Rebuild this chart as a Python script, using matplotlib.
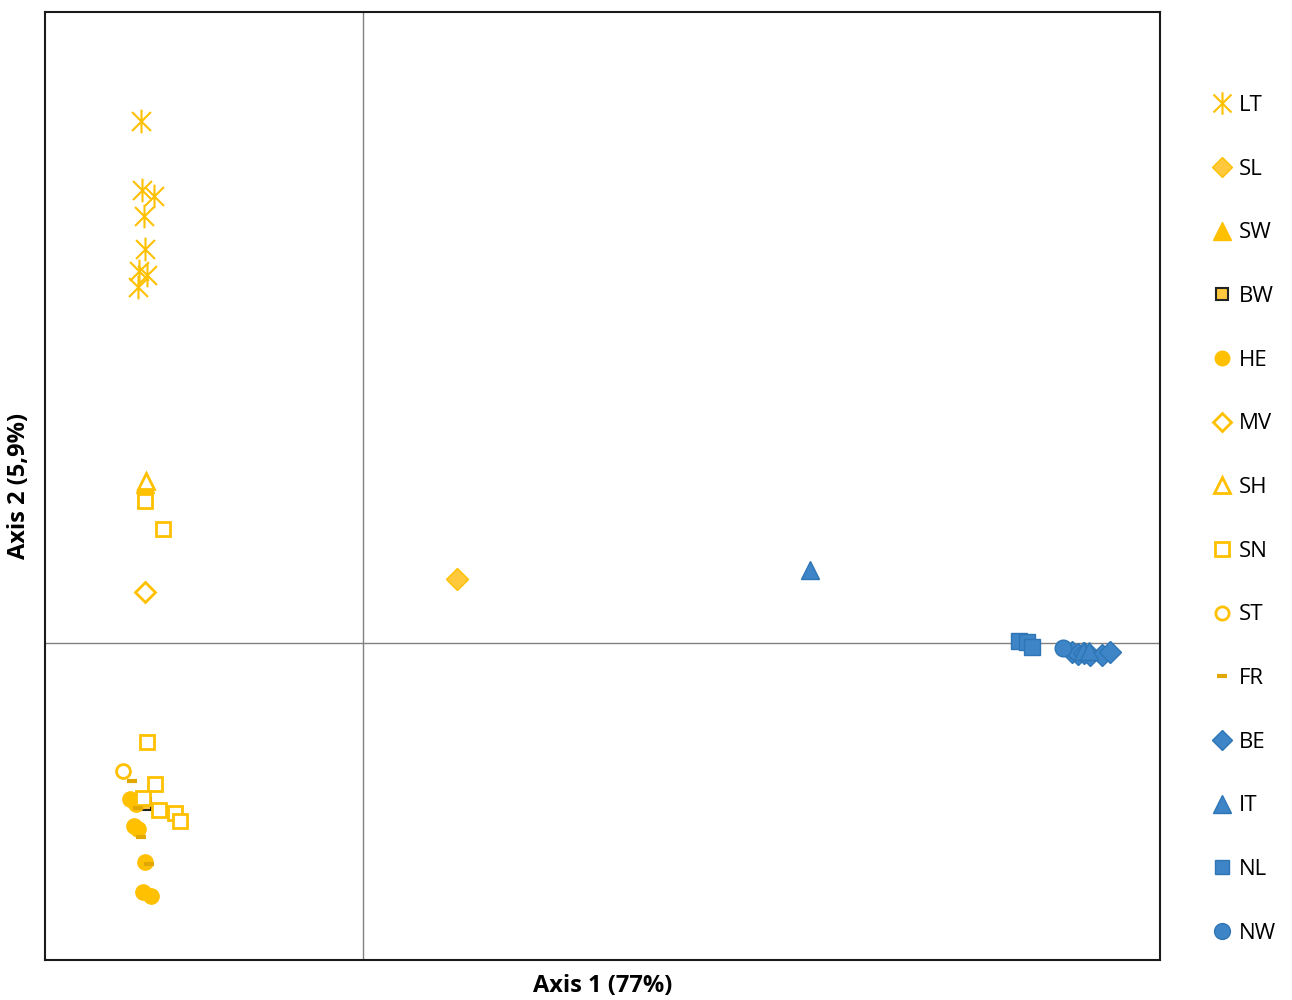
import numpy as np
import matplotlib.pyplot as plt
from matplotlib.path import Path

# coordinates (axis units, origin at the crossing lines)
lt_x = [-2.22, -2.21, -2.09, -2.19, -2.18, -2.24, -2.16, -2.25]
lt_y = [5.22, 4.53, 4.47, 4.27, 3.94, 3.72, 3.68, 3.56]
sl_x = [0.94]
sl_y = [0.64]
sw_x = [-2.18]
sw_y = [1.59]
bw_x = [-2.18]
bw_y = [-1.61]
he_x = [-2.33, -2.27, -2.29, -2.25, -2.18, -2.20, -2.12]
he_y = [-1.56, -1.61, -1.83, -1.86, -2.19, -2.49, -2.53]
mv_x = [-2.18]
mv_y = [0.51]
sh_x = [-2.17]
sh_y = [1.62]
sn_x = [-2.18, -2.00, -2.16, -2.08, -2.20, -2.04, -1.88, -1.83]
sn_y = [1.42, 1.14, -0.99, -1.41, -1.55, -1.67, -1.70, -1.78]
st_x = [-2.40]
st_y = [-1.28]
fr_x = [-2.31, -2.25, -2.22, -2.14]
fr_y = [-1.38, -1.65, -1.94, -2.21]
be_x = [7.09, 7.15, 7.21, 7.27, 7.39, 7.47]
be_y = [-0.09, -0.11, -0.10, -0.12, -0.12, -0.09]
it_x = [4.47, 7.20, 7.26]
it_y = [0.73, -0.08, -0.08]
nl_x = [6.56, 6.64, 6.69]
nl_y = [0.02, 0.01, -0.04]
nw_x = [7.00]
nw_y = [-0.05]

YEL = '#FFC000'
BLU = '#3D85C6'
BLU_E = '#2E75B6'

plt.rcParams['font.family'] = ['Open Sans', 'DejaVu Sans']

# excel-style star: X plus a vertical bar
star = Path([(-1, -1), (1, 1), (-1, 1), (1, -1), (0, -1.25), (0, 1.25)],
            [Path.MOVETO, Path.LINETO, Path.MOVETO, Path.LINETO, Path.MOVETO, Path.LINETO])

fig = plt.figure(figsize=(12.92, 10), dpi=100)
ax = fig.add_axes([45/1292, 40/1000, 1115/1292, 948/1000])

ax.axvline(0, color='#808080', lw=1, zorder=1)
ax.axhline(0, color='#808080', lw=1, zorder=1)

series = [
    ('LT', lt_x, lt_y, dict(marker=star, ms=17, mec=YEL, mfc=YEL, mew=1.5)),
    ('SL', sl_x, sl_y, dict(marker='D', ms=11, mec=YEL, mfc='#FFC83D', mew=1)),
    ('SW', sw_x, sw_y, dict(marker='^', ms=13, mec=YEL, mfc=YEL, mew=1)),
    ('BW', bw_x, bw_y, dict(marker='s', ms=9, mec='#222222', mfc='#FFC83D', mew=1.5)),
    ('HE', he_x, he_y, dict(marker='o', ms=11, mec=YEL, mfc=YEL, mew=1)),
    ('MV', mv_x, mv_y, dict(marker='D', ms=10, mec=YEL, mfc='white', mew=2)),
    ('SH', sh_x, sh_y, dict(marker='^', ms=12, mec=YEL, mfc='white', mew=2)),
    ('SN', sn_x, sn_y, dict(marker='s', ms=10, mec=YEL, mfc='white', mew=2)),
    ('ST', st_x, st_y, dict(marker='o', ms=10, mec=YEL, mfc='white', mew=2)),
    ('FR', fr_x, fr_y, dict(marker='_', ms=7, mec='#E0A800', mfc='#E0A800', mew=3)),
    ('BE', be_x, be_y, dict(marker='D', ms=11, mec=BLU_E, mfc=BLU, mew=1)),
    ('IT', it_x, it_y, dict(marker='^', ms=13, mec=BLU_E, mfc=BLU, mew=1)),
    ('NL', nl_x, nl_y, dict(marker='s', ms=11, mec=BLU_E, mfc=BLU, mew=1)),
    ('NW', nw_x, nw_y, dict(marker='o', ms=12, mec=BLU_E, mfc=BLU, mew=1)),
]

handles = []
for name, xs, ys, st in series:
    h, = ax.plot(xs, ys, ls='none', label=name, zorder=3, **st)
    handles.append(h)

ax.set_xlim(-3.18, 7.97)
ax.set_ylim(-3.17, 6.31)
ax.set_xticks([])
ax.set_yticks([])
for s in ax.spines.values():
    s.set_linewidth(1.5)
    s.set_color('#1a1a1a')

ax.set_xlabel('Axis 1 (77%)', fontsize=17, fontweight='bold', labelpad=10)
ax.set_ylabel('Axis 2 (5,9%)', fontsize=17, fontweight='bold', labelpad=10)

fig.legend(handles=handles, loc='upper left', bbox_to_anchor=(1192/1292, 1 - 75/1000),
           frameon=False, fontsize=16, labelspacing=1.92, handlelength=0.9,
           handletextpad=0.3, markerscale=0.95)

fig.savefig('out.png', dpi=100)
